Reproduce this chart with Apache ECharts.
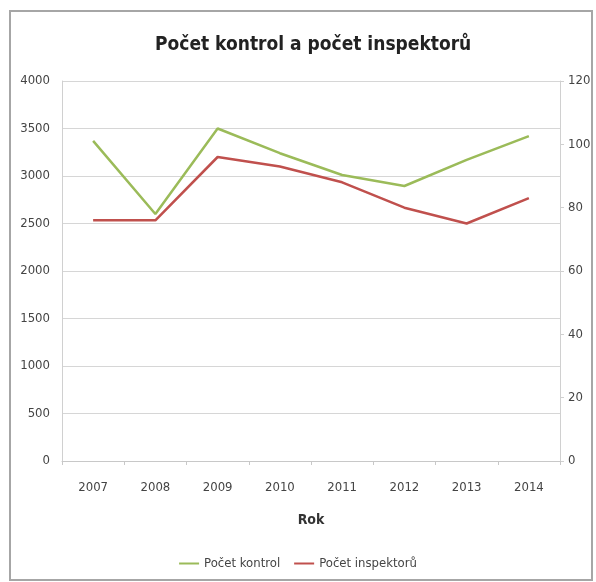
<!DOCTYPE html>
<html>
<head>
<meta charset="utf-8">
<script src="https://cdn.jsdelivr.net/npm/echarts@6/dist/echarts.min.js"></script>
<style>
html, body { margin: 0; padding: 0; background: #fff; }
#chart { width: 596px; height: 582px; }
</style>
</head>
<body>
<div id="chart"></div>
<script>
var years = ['2007', '2008', '2009', '2010', '2011', '2012', '2013', '2014'];
var kontrol = [3370, 2600, 3500, 3240, 3010, 2895, 3170, 3420];
var inspektoru = [76, 76, 96, 93, 88, 80, 75, 83];

var font = '"DejaVu Sans Condensed", "Liberation Sans Narrow", sans-serif';

var chart = echarts.init(document.getElementById('chart'));
chart.setOption({
    animation: false,
    graphic: [{
        type: 'rect',
        shape: {x: 10, y: 11, width: 582, height: 569},
        style: {fill: 'none', stroke: '#a6a6a6', lineWidth: 2},
        silent: true
    }],
    title: {
        text: 'Počet kontrol a počet inspektorů',
        left: 150,
        top: 31,
        textStyle: {fontFamily: font, fontSize: 19, fontWeight: 'bold', color: '#222'}
    },
    legend: {
        bottom: 7,
        left: 'center',
        itemWidth: 20,
        itemHeight: 2,
        itemGap: 14,
        icon: 'rect',
        textStyle: {fontFamily: font, fontSize: 13, color: '#444'},
        data: ['Počet kontrol', 'Počet inspektorů']
    },
    grid: {left: 62, right: 36, top: 81, bottom: 121},
    xAxis: {
        type: 'category',
        data: years,
        name: 'Rok',
        nameLocation: 'middle',
        nameGap: 52,
        nameTextStyle: {fontFamily: font, fontSize: 14, fontWeight: 'bold', color: '#333'},
        axisLine: {lineStyle: {color: '#c8c8c8'}},
        axisTick: {show: true, length: 4, lineStyle: {color: '#c8c8c8'}},
        axisLabel: {fontFamily: font, fontSize: 13, color: '#444', margin: 20}
    },
    yAxis: [{
        type: 'value',
        min: 0, max: 4000, interval: 500,
        axisLine: {show: true, lineStyle: {color: '#d0d0d0'}},
        axisTick: {show: false},
        axisLabel: {fontFamily: font, fontSize: 13, color: '#444', margin: 12,
            formatter: function (v) { return String(v); }},
        splitLine: {lineStyle: {color: '#d6d6d6'}}
    }, {
        type: 'value',
        min: 0, max: 120, interval: 20,
        axisLine: {show: true, lineStyle: {color: '#d0d0d0'}},
        axisTick: {show: true, length: 4, lineStyle: {color: '#d0d0d0'}},
        axisLabel: {fontFamily: font, fontSize: 13, color: '#444', margin: 8,
            formatter: function (v) { return String(v); }},
        splitLine: {show: false}
    }],
    series: [{
        name: 'Počet kontrol',
        type: 'line',
        data: kontrol,
        yAxisIndex: 0,
        symbol: 'none',
        lineStyle: {color: '#9bbb59', width: 2.5},
        itemStyle: {color: '#9bbb59'}
    }, {
        name: 'Počet inspektorů',
        type: 'line',
        data: inspektoru,
        yAxisIndex: 1,
        symbol: 'none',
        lineStyle: {color: '#c0504d', width: 2.5},
        itemStyle: {color: '#c0504d'}
    }]
});
</script>
</body>
</html>
